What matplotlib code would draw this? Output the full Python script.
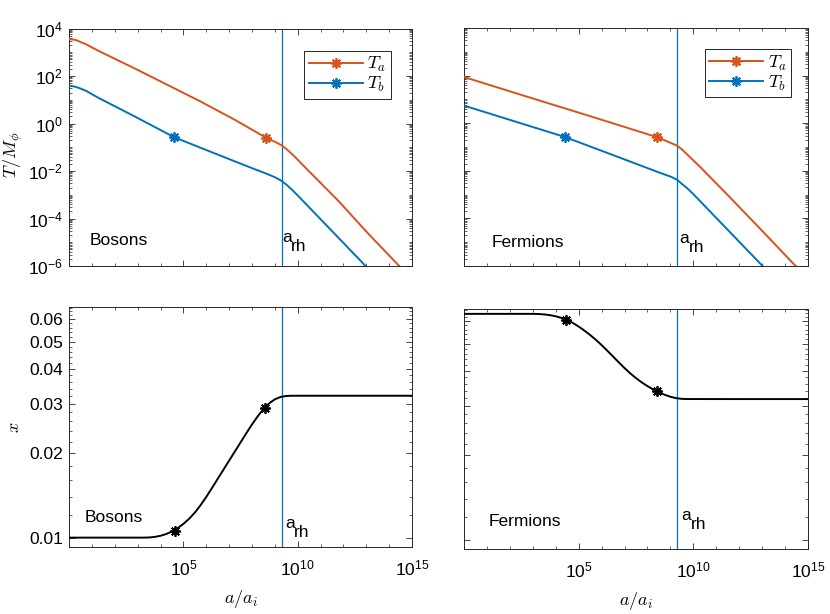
import numpy as np
import matplotlib
matplotlib.use('Agg')
import matplotlib.pyplot as plt
from matplotlib.ticker import FixedLocator, LogLocator, MultipleLocator, FuncFormatter, NullFormatter
from matplotlib.lines import Line2D

plt.rcParams['font.family'] = ['Liberation Sans', 'DejaVu Sans']
plt.rcParams['mathtext.fontset'] = 'cm'
plt.rcParams['axes.unicode_minus'] = False

ORANGE = '#D95319'
BLUE = '#0072BD'
AXCOL = '#262626'

# everything below, as log10(a/a_i) and log10(T/M_phi)
a_rh_exp = 9.3

boson_Ta_lx = [0, 0.15, 0.3, 0.5, 0.75, 1.0, 1.3, 2.8, 4.25, 5.7, 7.2, 8.6, 9.0, 9.28, 9.5, 9.8, 10.4, 11.8, 13.0, 14.4, 15]
boson_Ta_ly = [3.55, 3.54, 3.51, 3.43, 3.33, 3.20, 3.05, 2.35, 1.65, 0.95, 0.18, -0.59, -0.77, -0.91, -1.07,
               -1.33, -1.92, -3.28, -4.55, -5.96, -6.55]
boson_Tb_lx = [0, 0.15, 0.3, 0.5, 0.75, 1.0, 1.3, 2.8, 4.6, 6.45, 8.0, 8.65, 9.0, 9.28, 9.5, 9.75, 10.0, 11.0, 12.0, 13.0, 15]
boson_Tb_ly = [1.58, 1.57, 1.54, 1.47, 1.37, 1.23, 1.07, 0.33, -0.58, -1.29, -1.88, -2.12, -2.26, -2.41, -2.57,
               -2.79, -3.03, -4.03, -5.03, -6.03, -8.03]

fermion_Ta_lx = [0, 2.73, 5.65, 8.4, 8.9, 9.3, 9.5, 9.75, 10.3, 11.5, 13.0, 14.4, 15]
fermion_Ta_ly = [1.94, 1.12, 0.25, -0.58, -0.78, -0.95, -1.10, -1.33, -1.84, -3.02, -4.52, -5.94, -6.5]
fermion_Tb_lx = [0, 2.2, 4.4, 6.5, 8.56, 9.0, 9.3, 9.5, 9.72, 10.0, 11.0, 12.0, 13.0, 15]
fermion_Tb_ly = [0.74, 0.08, -0.58, -1.34, -2.09, -2.24, -2.38, -2.55, -2.72, -2.98, -3.98, -4.98, -5.98, -7.98]

# asterisk markers (log10 a/a_i, log10 T/M)
boson_star_Ta = (8.6, -0.59)
boson_star_Tb = (4.6, -0.58)
fermion_star_Ta = (8.4, -0.58)
fermion_star_Tb = (4.4, -0.58)

# lower row, x against log10(a/a_i)
boson_x_lx = [0, 3.0, 3.25, 3.5, 3.75, 4.0, 4.25, 4.5, 4.75, 5.0, 5.25, 5.5, 5.75, 6.0, 6.25, 6.5, 6.75,
              7.0, 7.25, 7.5, 7.75, 8.0, 8.25, 8.5, 8.75, 9.0, 9.25, 9.5, 9.75, 12, 15]
boson_x = [0.0100, 0.0100, 0.0100, 0.010014, 0.010062, 0.010155, 0.010304, 0.010520, 0.010819, 0.011200,
           0.011678, 0.012289, 0.013057, 0.013975, 0.015042, 0.016210, 0.017468, 0.018825, 0.020287,
           0.021862, 0.023560, 0.025336, 0.027080, 0.028725, 0.030113, 0.031127, 0.031735, 0.031989,
           0.032048, 0.03205, 0.03205]
boson_x_stars = ([4.61, 8.57], [0.0106, 0.0290])

fermion_x_lx = [0, 3.0, 3.25, 3.5, 3.75, 4.0, 4.25, 4.5, 4.75, 5.0, 5.25, 5.5, 5.75, 6.0, 6.25, 6.5, 6.75,
                7.0, 7.25, 7.5, 7.75, 8.0, 8.25, 8.5, 8.75, 9.0, 9.25, 9.5, 9.75, 12, 15]
fermion_x = [0.0638, 0.0638, 0.06373, 0.06351, 0.06313, 0.06255, 0.06172, 0.06061, 0.05920, 0.05748,
             0.05563, 0.05364, 0.05156, 0.04938, 0.04715, 0.04496, 0.04284, 0.04089, 0.03915, 0.03765,
             0.03636, 0.03526, 0.03431, 0.03352, 0.03284, 0.03231, 0.03194, 0.03176, 0.03171, 0.0317, 0.0317]
fermion_x_stars = ([4.43, 8.4], [0.0609, 0.0338])

x_ticks_exp = [5, 10, 15]
T_ticks_exp = [-6, -4, -2, 0, 2, 4]
x_ratio_ticks = [0.01, 0.02, 0.03, 0.04, 0.05, 0.06]

STAR = (8, 2, 0)
FS = 12.5


def p10(v):
    return 10.0 ** np.asarray(v, dtype=float)


def pow_fmt(v, pos):
    return r'$\mathdefault{10^{%d}}$' % int(round(np.log10(v)))


def style_axes(ax, top_row):
    ax.set_xscale('log')
    ax.set_yscale('log')
    ax.set_xlim(1, 1e15)
    ax.xaxis.set_major_locator(FixedLocator(p10(x_ticks_exp)))
    ax.xaxis.set_minor_locator(FixedLocator(p10(range(0, 16))))
    ax.xaxis.set_minor_formatter(NullFormatter())
    ax.yaxis.set_minor_formatter(NullFormatter())
    if top_row:
        ax.xaxis.set_major_formatter(NullFormatter())
    else:
        ax.xaxis.set_major_formatter(FuncFormatter(pow_fmt))
    ax.tick_params(which='both', direction='in', top=True, right=True, colors=AXCOL,
                   labelsize=FS, labelcolor='black')
    ax.tick_params(which='major', length=4, width=0.6)
    ax.tick_params(which='minor', length=2.5, width=0.5)
    ax.tick_params(axis='x', which='major', pad=8.5)
    ax.tick_params(axis='y', which='major', pad=4.5)
    for s in ax.spines.values():
        s.set_color(AXCOL)
        s.set_linewidth(0.7)


def add_arh(ax, yfrac, dx):
    ax.axvline(10 ** a_rh_exp, color=BLUE, lw=0.9, zorder=2)
    ax.annotate('a', xy=(10 ** a_rh_exp, yfrac), xycoords=('data', 'axes fraction'),
                xytext=(dx, 0), textcoords='offset points', va='baseline', ha='left', fontsize=FS)
    ax.annotate('rh', xy=(10 ** a_rh_exp, yfrac), xycoords=('data', 'axes fraction'),
                xytext=(dx + 6.5, -6.5), textcoords='offset points', va='baseline', ha='left', fontsize=FS)


def temp_panel(ax, Ta, Tb, sa, sb, label, lpos, arh_y, arh_dx, left_col, leg_anchor):
    style_axes(ax, True)
    ax.set_ylim(1e-6, 1e4)
    ax.yaxis.set_major_locator(FixedLocator(p10(T_ticks_exp)))
    ax.yaxis.set_minor_locator(LogLocator(base=10, subs=np.arange(1, 10), numticks=100))
    if left_col:
        ax.yaxis.set_major_formatter(FuncFormatter(pow_fmt))
    else:
        ax.yaxis.set_major_formatter(NullFormatter())
    add_arh(ax, arh_y, arh_dx)
    ax.plot(p10(Ta[0]), p10(Ta[1]), color=ORANGE, lw=1.4, zorder=3)
    ax.plot(p10(Tb[0]), p10(Tb[1]), color=BLUE, lw=1.4, zorder=3)
    ax.plot(10 ** sa[0], 10 ** sa[1], ls='none', marker=STAR, ms=7.5, mew=1.3, color=ORANGE, zorder=4)
    ax.plot(10 ** sb[0], 10 ** sb[1], ls='none', marker=STAR, ms=7.5, mew=1.3, color=BLUE, zorder=4)
    ax.text(lpos[0], lpos[1], label, transform=ax.transAxes, va='baseline', ha='left', fontsize=FS)
    handles = [Line2D([], [], color=ORANGE, lw=1.4, marker=STAR, ms=7.5, mew=1.3),
               Line2D([], [], color=BLUE, lw=1.4, marker=STAR, ms=7.5, mew=1.3)]
    leg = ax.legend(handles, [r'$T_a$', r'$T_b$'], loc='upper right', bbox_to_anchor=leg_anchor,
                    borderaxespad=0, fontsize=13, handlelength=3.0, handletextpad=0.25,
                    labelspacing=0.05, borderpad=0.25, numpoints=1, fancybox=False,
                    framealpha=1, edgecolor=AXCOL)
    leg.get_frame().set_linewidth(0.7)


def ratio_panel(ax, lx, vals, stars, label, lpos, arh_y, arh_dx, left_col):
    style_axes(ax, False)
    ax.set_ylim(0.00926, 0.0664)
    ax.yaxis.set_major_locator(FixedLocator(x_ratio_ticks))
    ax.yaxis.set_minor_locator(MultipleLocator(0.002))
    if left_col:
        ax.yaxis.set_major_formatter(FuncFormatter(lambda v, p: '%.2f' % v))
    else:
        ax.yaxis.set_major_formatter(NullFormatter())
    add_arh(ax, arh_y, arh_dx)
    ax.plot(p10(lx), vals, color='black', lw=1.4, zorder=3)
    ax.plot(p10(stars[0]), stars[1], ls='none', marker=STAR, ms=7.5, mew=1.3, color='black', zorder=4)
    ax.text(lpos[0], lpos[1], label, transform=ax.transAxes, va='baseline', ha='left', fontsize=FS)
    ax.set_xlabel(r'$a/a_i$', fontsize=13)
    ax.xaxis.set_label_coords(0.5, -0.171)


W, H = 830, 614


def rect(l, t, r, b):
    return [l / W, 1 - b / H, (r - l) / W, (b - t) / H]


fig = plt.figure(figsize=(W / 100, H / 100), dpi=100)
ax_tl = fig.add_axes(rect(69.2, 28.5, 412, 266))
ax_tr = fig.add_axes(rect(464, 28, 808, 266))
ax_bl = fig.add_axes(rect(69.2, 307, 412, 547))
ax_br = fig.add_axes(rect(464, 309, 808, 549))

temp_panel(ax_tl, (boson_Ta_lx, boson_Ta_ly), (boson_Tb_lx, boson_Tb_ly),
           boson_star_Ta, boson_star_Tb, 'Bosons', (0.06, 0.088), 0.101, 0.3, True, (0.938, 0.9065))
temp_panel(ax_tr, (fermion_Ta_lx, fermion_Ta_ly), (fermion_Tb_lx, fermion_Tb_ly),
           fermion_star_Ta, fermion_star_Tb, 'Fermions', (0.079, 0.081), 0.095, 1.5, False, (0.951, 0.9108))
ax_tl.set_ylabel(r'$T/M_\phi$', fontsize=13)
ax_tl.yaxis.set_label_coords(-0.128, 0.47)

ratio_panel(ax_bl, boson_x_lx, boson_x, boson_x_stars, 'Bosons', (0.046, 0.104), 0.079, 2.2, True)
ratio_panel(ax_br, fermion_x_lx, fermion_x, fermion_x_stars, 'Fermions', (0.073, 0.096), 0.121, 3.0, False)
ax_bl.set_ylabel(r'$x$', fontsize=13)
ax_bl.yaxis.set_label_coords(-0.134, 0.5)

fig.savefig('out.png', dpi=100)
